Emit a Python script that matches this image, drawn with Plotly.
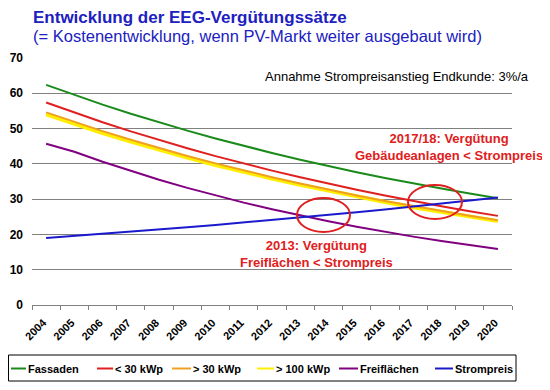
import plotly.graph_objects as go

years = [str(y) for y in range(2004, 2021)]

fassaden = [62.40, 59.53, 56.80, 54.21, 51.75, 49.42, 47.19, 45.08, 43.08, 41.18,
            39.37, 37.65, 36.02, 34.47, 32.99, 31.59, 30.26]
unter30 = [57.40, 54.53, 51.80, 49.21, 46.75, 44.42, 42.19, 40.08, 38.08, 36.18,
           34.37, 32.65, 31.02, 29.47, 27.99, 26.59, 25.26]
ueber30 = [54.60, 51.87, 49.28, 46.81, 44.47, 42.25, 40.14, 38.13, 36.22, 34.41,
           32.69, 31.06, 29.50, 28.03, 26.63, 25.29, 24.03]
ueber100 = [54.00, 51.30, 48.74, 46.30, 43.98, 41.78, 39.69, 37.71, 35.83, 34.04,
            32.33, 30.72, 29.18, 27.72, 26.34, 25.02, 23.77]
freiflaechen = [45.70, 43.42, 40.60, 37.96, 35.49, 33.19, 31.03, 29.01, 27.13, 25.36,
                23.71, 22.17, 20.73, 19.38, 18.12, 16.95, 15.85]
strompreis = [19.00, 19.57, 20.16, 20.76, 21.38, 22.03, 22.69, 23.37, 24.07, 24.79,
              25.53, 26.30, 27.09, 27.90, 28.74, 29.60, 30.49]

series = [
    ("Fassaden", fassaden, "#1a8a1a", 2),
    ("< 30 kWp", unter30, "#e02020", 2),
    ("> 30 kWp", ueber30, "#f0a020", 2),
    ("> 100 kWp", ueber100, "#ffee00", 4),
    ("Freiflächen", freiflaechen, "#800080", 2),
    ("Strompreis", strompreis, "#1a1acc", 2),
]

FONT = "Liberation Sans, Arial, sans-serif"
OFF = 8  # page body margin
W, H = 550 - OFF, 390 - OFF
L, T = 32 - OFF, 58 - OFF
R = W - (512 - OFF)
B = H - (305 - OFF)
PW = W - L - R
PH = H - T - B


def px(xp):
    return (xp - OFF - L) / PW


def py(yp):
    return (H - B - (yp - OFF)) / PH


fig = go.Figure()
order = [0, 1, 3, 2, 4, 5]
for i in order:
    name, vals, col, w = series[i]
    fig.add_trace(go.Scatter(x=years, y=vals, mode="lines", name=name,
                             line=dict(color=col, width=w), showlegend=False))

fig.update_layout(
    width=W, height=H,
    margin=dict(l=L, r=R, t=T, b=B, autoexpand=False),
    paper_bgcolor="white", plot_bgcolor="white",
    font=dict(family=FONT, color="black"),
    showlegend=False,
    xaxis=dict(type="category", range=[-0.5, len(years) - 0.5], showgrid=False,
               showline=True, linecolor="#808080",
               linewidth=1, ticks="outside", tickson="boundaries", ticklen=4,
               tickcolor="#808080", tickangle=-45, automargin=False,
               ticklabelstandoff=6, ticklabelshift=-3,
               tickfont=dict(size=11, weight="bold", family=FONT)),
    yaxis=dict(range=[0, 70], dtick=10, showgrid=True, gridcolor="#808080",
               gridwidth=1, zeroline=False, showline=False, ticks="", automargin=False,
               ticklabelstandoff=8,
               tickfont=dict(size=12, weight="bold", family=FONT)),
)

fig.add_annotation(xref="paper", yref="paper", x=px(32), y=py(17), xanchor="left",
                   yanchor="middle", showarrow=False, borderpad=0,
                   text="Entwicklung der EEG-Vergütungssätze",
                   font=dict(size=17, color="#2020c0", weight="bold", family=FONT))
fig.add_annotation(xref="paper", yref="paper", x=px(32), y=py(36.5), xanchor="left",
                   yanchor="middle", showarrow=False, borderpad=0,
                   text="(= Kostenentwicklung, wenn PV-Markt weiter ausgebaut wird)",
                   font=dict(size=16.5, color="#2020c0", family=FONT))
fig.add_annotation(xref="paper", yref="paper", x=px(531), y=py(77), xanchor="right",
                   yanchor="middle", showarrow=False,
                   text="Annahme Strompreisanstieg Endkunde: 3%/a",
                   font=dict(size=13, color="black", family=FONT))
fig.add_annotation(xref="paper", yref="paper", x=px(449), y=py(147), xanchor="center",
                   yanchor="middle", showarrow=False,
                   text="2017/18: Vergütung<br>Gebäudeanlagen < Strompreis",
                   font=dict(size=13, color="#e02020", weight="bold", family=FONT))
fig.add_annotation(xref="paper", yref="paper", x=px(316), y=py(254), xanchor="center",
                   yanchor="middle", showarrow=False,
                   text="2013: Vergütung<br>Freiflächen < Strompreis",
                   font=dict(size=13, color="#e02020", weight="bold", family=FONT))

fig.add_shape(type="circle", xref="paper", yref="paper",
              x0=px(297), x1=px(350), y0=py(232), y1=py(198),
              line=dict(color="#e02020", width=2))
fig.add_shape(type="circle", xref="paper", yref="paper",
              x0=px(408), x1=px(462), y0=py(219), y1=py(185),
              line=dict(color="#e02020", width=2))

# legend box (drawn manually to match the single-row layout)
fig.add_shape(type="rect", xref="paper", yref="paper",
              x0=px(OFF + 0.5), x1=px(516), y0=py(381), y1=py(355),
              line=dict(color="black", width=1), fillcolor="white")
leg_pos = [(11, 28), (97, 115), (172, 193), (257, 276), (339, 360), (435, 455)]
for (name, vals, col, w), (lx, tx) in zip(series, leg_pos):
    fig.add_shape(type="line", xref="paper", yref="paper",
                  x0=px(lx), x1=px(tx - 2), y0=py(368.5), y1=py(368.5),
                  line=dict(color=col, width=2))
    fig.add_annotation(xref="paper", yref="paper", x=px(tx), y=py(368.5),
                       xanchor="left", yanchor="middle", showarrow=False,
                       text=name, xshift=-2,
                       font=dict(size=11, color="black", weight="bold", family=FONT))

fig.write_html("out.html")
